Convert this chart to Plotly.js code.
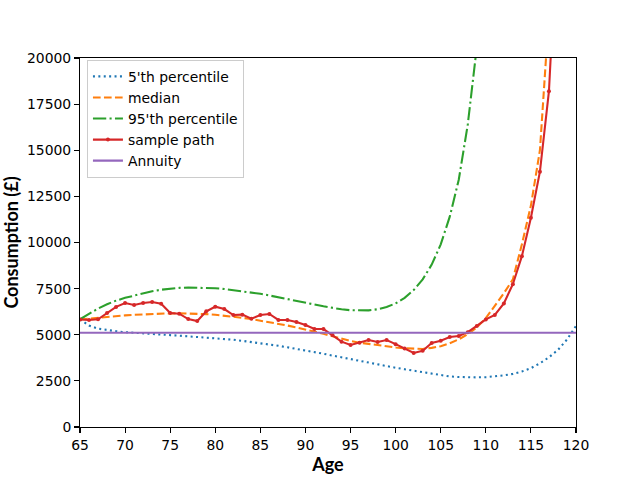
<!DOCTYPE html>
<html>
<head>
<meta charset="utf-8">
<script src="https://cdn.plot.ly/plotly-3.0.1.min.js"></script>
<style>
  html, body { margin: 0; padding: 0; background: #fff; }
  #plot { width: 640px; height: 480px; }
</style>
</head>
<body>
<div id="plot"></div>
<script>
'use strict';

// ages 65..120, one value per year
const ages = [];
for (let a = 65; a <= 120; a++) ages.push(a);

const p5 = [5830, 5500, 5330, 5250, 5190, 5140, 5100, 5070, 5040, 5010,
            4980, 4950, 4920, 4890, 4860, 4820, 4780, 4730, 4670, 4610,
            4550, 4480, 4400, 4320, 4240, 4150, 4060, 3970, 3870, 3770,
            3670, 3570, 3480, 3380, 3300, 3210, 3130, 3050, 2950, 2860,
            2790, 2740, 2710, 2690, 2690, 2700, 2740, 2800, 2880, 3010,
            3190, 3450, 3780, 4180, 4740, 5480];

const median = [5830, 5880, 5930, 5970, 6010, 6050, 6080, 6110, 6130, 6150,
                6160, 6160, 6150, 6140, 6120, 6080, 6040, 5980, 5920, 5850,
                5770, 5680, 5600, 5500, 5400, 5300, 5170, 5050, 4910, 4780,
                4660, 4570, 4500, 4430, 4370, 4310, 4270, 4240, 4230, 4290,
                4380, 4540, 4750, 5030, 5400, 5900, 6550, 7250, 8000, 9900,
                12000, 15000, 22400];

const p95 = [5840, 6150, 6420, 6650, 6850, 7000, 7130, 7260, 7360, 7440,
             7500, 7540, 7560, 7560, 7550, 7520, 7480, 7420, 7360, 7290,
             7220, 7130, 7040, 6940, 6840, 6740, 6640, 6540, 6450, 6380,
             6330, 6310, 6320, 6380, 6500, 6700, 7000, 7420, 8000, 8800,
             9900, 11400, 13400, 16400, 20600];

const samplePath = [5830, 5800, 5840, 6180, 6510, 6720, 6610, 6725, 6775, 6685,
                    6180, 6140, 5850, 5745, 6270, 6520, 6395, 6070, 6090, 5870,
                    6070, 6125, 5800, 5800, 5690, 5530, 5310, 5310, 4985, 4625,
                    4445, 4570, 4715, 4610, 4715, 4490, 4255, 4010, 4130, 4550,
                    4680, 4880, 4930, 5140, 5480, 5830, 6070, 6700, 7740, 9260,
                    11340, 13840, 18200, 27700];

const annuity = 5110;

const lw = 2.08;

const traces = [
  {
    x: ages.slice(0, p5.length), y: p5,
    name: "5'th percentile", type: 'scatter', mode: 'lines',
    line: {color: '#1f77b4', width: lw, dash: '2px,3.4px'}
  },
  {
    x: ages.slice(0, median.length), y: median,
    name: 'median', type: 'scatter', mode: 'lines',
    line: {color: '#ff7f0e', width: lw, dash: '7.7px,3.3px'}
  },
  {
    x: ages.slice(0, p95.length), y: p95,
    name: "95'th percentile", type: 'scatter', mode: 'lines',
    line: {color: '#2ca02c', width: lw, dash: '13.3px,3.3px,2.1px,3.3px'}
  },
  {
    x: ages.slice(0, samplePath.length), y: samplePath,
    name: 'sample path', type: 'scatter', mode: 'lines+markers',
    line: {color: '#d62728', width: lw},
    marker: {color: '#d62728', size: 4}
  },
  {
    x: ages, y: ages.map(function () { return annuity; }),
    name: 'Annuity', type: 'scatter', mode: 'lines',
    line: {color: '#9467bd', width: lw}
  }
];

const tickFont = {family: 'DejaVu Sans', size: 13.9, color: '#000'};
const titleFont = {family: 'Lato, Carlito, sans-serif', size: 18, color: '#000', weight: 'bold'};

const layout = {
  width: 640,
  height: 480,
  paper_bgcolor: '#fff',
  plot_bgcolor: '#fff',
  margin: {l: 80, r: 64, t: 58, b: 53},
  showlegend: true,
  legend: {
    x: 0.014, y: 0.995, xanchor: 'left', yanchor: 'top',
    bgcolor: 'rgba(255,255,255,0.8)',
    bordercolor: '#cccccc', borderwidth: 1,
    font: tickFont,
    tracegroupgap: 0
  },
  xaxis: {
    range: [65, 120],
    dtick: 5, tick0: 65,
    showgrid: false, zeroline: false,
    showline: true, mirror: true, linecolor: '#000', linewidth: 1.1,
    ticks: 'outside', ticklen: 4.9, tickwidth: 1.1, tickcolor: '#000',
    tickfont: tickFont,
    title: {text: 'Age', font: titleFont, standoff: 5}
  },
  yaxis: {
    range: [0, 20000],
    dtick: 2500, tick0: 0,
    tickformat: 'd',
    showgrid: false, zeroline: false,
    showline: true, mirror: true, linecolor: '#000', linewidth: 1.1,
    ticks: 'outside', ticklen: 4.9, tickwidth: 1.1, tickcolor: '#000',
    tickfont: tickFont,
    title: {text: 'Consumption (£)', font: titleFont, standoff: 7}
  }
};

Plotly.newPlot('plot', traces, layout, {staticPlot: true, displayModeBar: false});
</script>
</body>
</html>
